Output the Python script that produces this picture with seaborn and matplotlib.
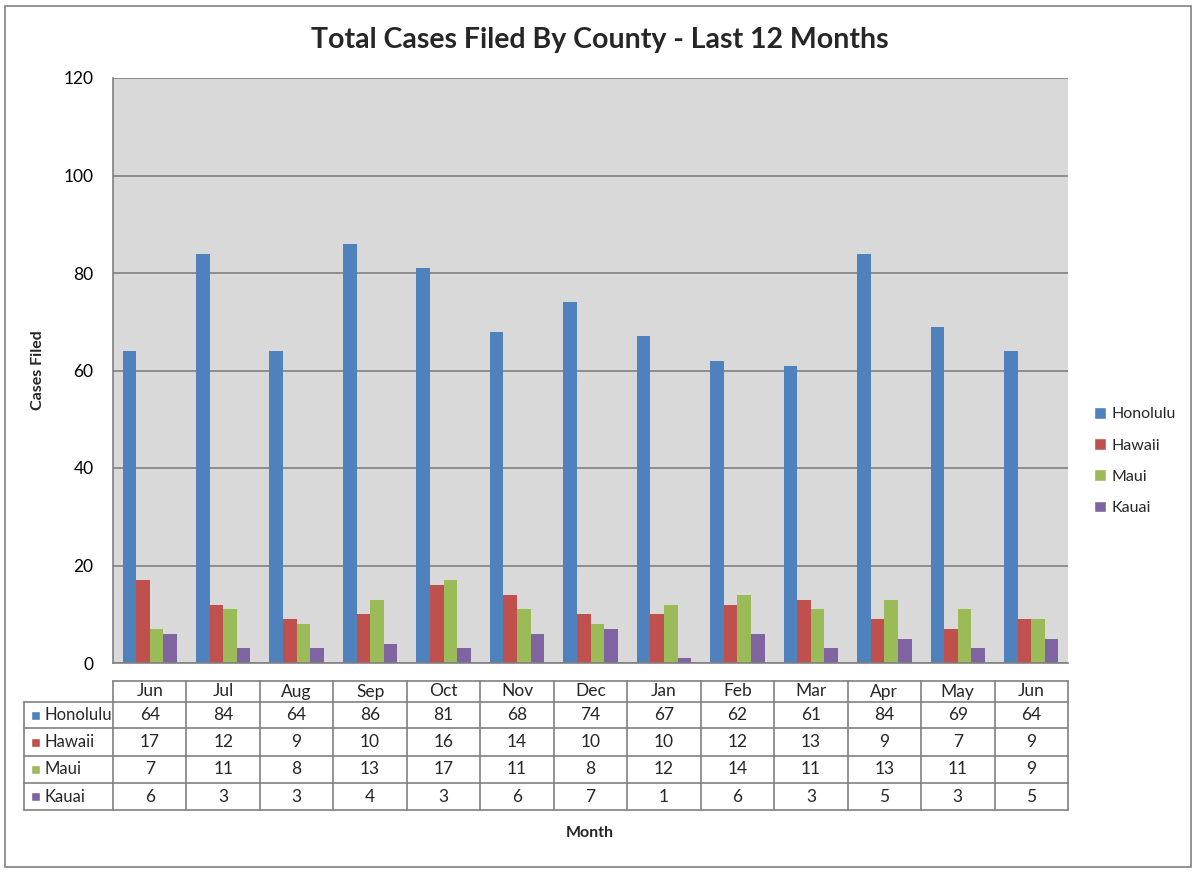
import seaborn as sns
import matplotlib.pyplot as plt
import matplotlib.transforms as mtransforms
from matplotlib.lines import Line2D
from matplotlib.patches import Rectangle
import pandas as pd

months = ["Jun", "Jul", "Aug", "Sep", "Oct", "Nov", "Dec", "Jan", "Feb", "Mar", "Apr", "May", "Jun"]
counties = ["Honolulu", "Hawaii", "Maui", "Kauai"]
honolulu = [64, 84, 64, 86, 81, 68, 74, 67, 62, 61, 84, 69, 64]
hawaii = [17, 12, 9, 10, 16, 14, 10, 10, 12, 13, 9, 7, 9]
maui = [7, 11, 8, 13, 17, 11, 8, 12, 14, 11, 13, 11, 9]
kauai = [6, 3, 3, 4, 3, 6, 7, 1, 6, 3, 5, 3, 5]
series = [honolulu, hawaii, maui, kauai]
colors = ["#4F81BD", "#C0504D", "#9BBB59", "#8064A2"]

# long table, months get an index so the two "Jun" stay apart
rows = []
for name, vals in zip(counties, series):
    for i, v in enumerate(vals):
        rows.append({"slot": i, "county": name, "cases": v})
df = pd.DataFrame(rows)

sns.set_theme(style="white")
plt.rcParams["font.family"] = ["Lato", "DejaVu Sans"]

W, H = 1200, 873
fig = plt.figure(figsize=(12, 8.73), dpi=100)
ax = fig.add_axes([113 / W, 1 - 663 / H, (1068 - 113) / W, (663 - 78) / H])
ax.set_facecolor("#D9D9D9")

sns.barplot(data=df, x="slot", y="cases", hue="county", hue_order=counties,
            palette=colors, width=0.74, gap=0, ax=ax, legend=False,
            saturation=1, edgecolor="none", linewidth=0)

ax.set_xlim(-0.5, len(months) - 0.5)
ax.set_ylim(0, 120)
ax.set_yticks(range(0, 121, 20))
ax.yaxis.grid(True, color="#808080", linewidth=1.2)
ax.set_axisbelow(True)
ax.set_xticks([])
ax.set_xlabel("")
ax.set_ylabel("")
ax.tick_params(axis="y", length=0, pad=14, labelsize=12.5, colors="#000000")
for s in ["top", "right"]:
    ax.spines[s].set_visible(False)
ax.spines["left"].set_color("#808080")
ax.spines["bottom"].set_color("#808080")
ax.spines["left"].set_linewidth(1.2)
ax.spines["bottom"].set_linewidth(1.2)

# data table under the plot
def fy(p):
    return (663 - p) / (663 - 78)

def fx(p):
    return (p - 113) / (1068 - 113)

blend = mtransforms.blended_transform_factory(ax.transData, ax.transAxes)
line_kw = dict(color="#808080", linewidth=1.2, clip_on=False)
row_edges = [681, 702, 728, 756, 783, 810]
n = len(months)
label_left = fx(24)

# horizontal lines
ax.add_line(Line2D([-0.5, n - 0.5], [fy(row_edges[0])] * 2, transform=blend, **line_kw))
for p in row_edges[1:]:
    ax.add_line(Line2D([label_left, 1], [fy(p)] * 2, transform=ax.transAxes, **line_kw))
# vertical lines
for i in range(n + 1):
    ax.add_line(Line2D([i - 0.5] * 2, [fy(row_edges[0]), fy(row_edges[-1])], transform=blend, **line_kw))
ax.add_line(Line2D([label_left] * 2, [fy(row_edges[1]), fy(row_edges[-1])], transform=ax.transAxes, **line_kw))

for i, m in enumerate(months):
    ax.text(i, fy((row_edges[0] + row_edges[1]) / 2), m, transform=blend,
            ha="center", va="center", fontsize=12.5)
for r, (name, vals, c) in enumerate(zip(counties, series, colors)):
    yc = fy((row_edges[r + 1] + row_edges[r + 2]) / 2)
    for i, v in enumerate(vals):
        ax.text(i, yc, str(v), transform=blend, ha="center", va="center", fontsize=12.5)
    ax.add_patch(Rectangle((fx(31), yc - 4.5 / 585), 9 / 955, 9 / 585,
                           transform=ax.transAxes, facecolor=c, clip_on=False))
    ax.text(fx(44), yc, name, transform=ax.transAxes, ha="left",
            va="center", fontsize=12)

# legend
handles = [Rectangle((0, 0), 1, 1, facecolor=c) for c in colors]
fig.legend(handles, counties, loc="center left",
           bbox_to_anchor=(1080 / W, 1 - 461 / H), frameon=False,
           handlelength=0.75, handleheight=0.75, handletextpad=0.3,
           labelspacing=1.05, fontsize=11.5)

fig.text(600 / W, 1 - 40 / H, "Total Cases Filed By County - Last 12 Months",
         ha="center", va="center", fontsize=20.5, fontweight="bold")
fig.text(38 / W, 1 - 370 / H, "Cases Filed", rotation=90, ha="center",
         va="center", fontsize=11.5, fontweight="bold")
fig.text(590 / W, 1 - 833 / H, "Month", ha="center", va="center",
         fontsize=11.5, fontweight="bold")

fig.add_artist(Rectangle((5 / W, 6 / H), 1186 / W, 861 / H, transform=fig.transFigure,
                         fill=False, edgecolor="#808080", linewidth=1.2))

fig.savefig("out.png", dpi=100)
